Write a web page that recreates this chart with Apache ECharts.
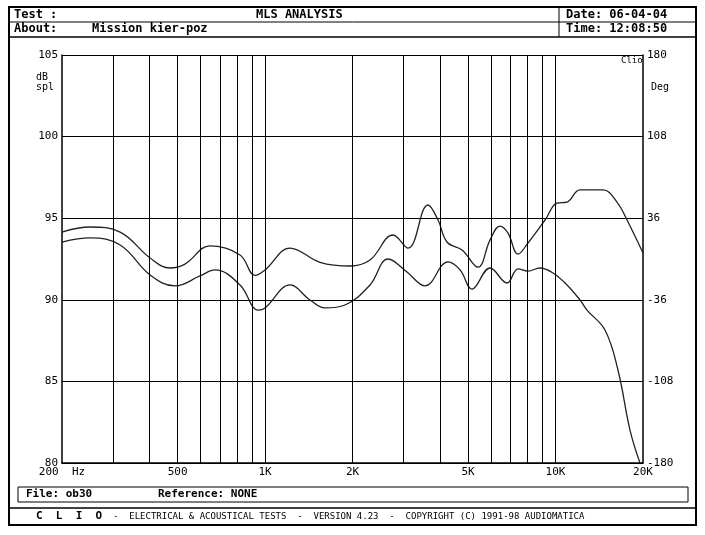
<!DOCTYPE html>
<html><head><meta charset="utf-8">
<script src="https://cdn.jsdelivr.net/npm/echarts@6/dist/echarts.min.js"></script>
<style>body{margin:0;background:#fff}#chart{width:705px;height:535px}</style>
</head><body><div id="chart"></div>
<script>
var upperFreq = [200,250,317,402,471,530,646,820,923,1000,1219,1546,1960,2298,2757,3106,3638,3940,4230,4766,5408,5948,6438,6860,7426,8038,9202,10116,10950,12138,14562,16272,17620,20000];
var upperDb = [94.15,94.46,94.15,92.56,91.95,92.19,93.3,92.75,91.5,91.83,93.17,92.3,92.07,92.44,93.97,93.17,95.81,94.89,93.54,93.05,92.0,93.66,94.52,94.09,92.8,93.48,94.89,95.93,95.99,96.73,96.73,95.99,94.89,92.87];
var lowerFreq = [200,250,317,402,490,597,673,820,946,1000,1219,1428,1608,1884,2298,2651,3080,3553,4263,4691,5157,5948,6806,7426,8038,8842,9799,10950,12138,12830,14796,16400,18040,19530];
var lowerDb = [93.54,93.79,93.36,91.52,90.85,91.46,91.83,90.91,89.37,89.5,90.91,89.99,89.5,89.68,90.91,92.5,91.7,90.85,92.32,91.83,90.66,91.95,91.03,91.89,91.76,91.95,91.64,90.91,89.99,89.37,88.15,85.7,82.02,80];
var gridFreqs = [300,400,500,600,700,800,900,1000,2000,3000,4000,5000,6000,7000,8000,9000,10000];
var xLabels = [200,500,1000,2000,5000,10000,20000];

function pairs(xs, ys) { return xs.map(function (x, i) { return [x, ys[i]]; }); }
var mono = 'DejaVu Sans Mono';

var option = {
    animation: false,
    grid: { left: 62, right: 62, top: 55, bottom: 72 },
    xAxis: {
        type: 'log', min: 200, max: 20000, logBase: 10,
        axisLine: { onZero: false, lineStyle: { color: '#000', width: 1.5 } },
        axisTick: { show: false },
        splitLine: { show: false },
        axisLabel: {
            customValues: xLabels, color: '#000', fontFamily: mono, fontSize: 11, margin: 4,
            formatter: function (v) {
                if (v == 200) return '200  Hz';
                if (v >= 1000) return (v / 1000) + 'K';
                return v;
            }
        }
    },
    yAxis: [
        {
            type: 'value', min: 80, max: 105, interval: 5,
            axisLine: { show: true, lineStyle: { color: '#000', width: 1.5 } },
            axisTick: { show: true, length: 3, inside: true },
            axisLabel: { color: '#000', fontFamily: mono, fontSize: 11, margin: 4 },
            splitLine: { lineStyle: { color: '#000', width: 1 } }
        },
        {
            type: 'value', min: -180, max: 180, interval: 72,
            axisLine: { show: true, lineStyle: { color: '#000', width: 1.5 } },
            axisTick: { show: true, length: 3, inside: true },
            axisLabel: { color: '#000', fontFamily: mono, fontSize: 11, margin: 4 },
            splitLine: { show: false }
        }
    ],
    series: [
        {
            type: 'line', data: pairs(upperFreq, upperDb), smooth: 0.4, symbol: 'none', lineStyle: { color: '#222', width: 1.3 },
            markLine: {
                symbol: 'none', silent: true, label: { show: false },
                lineStyle: { color: '#000', type: 'solid', width: 1 },
                data: gridFreqs.map(function (f) { return { xAxis: f }; })
            }
        },
        { type: 'line', data: pairs(lowerFreq, lowerDb), smooth: 0.4, symbol: 'none', lineStyle: { color: '#222', width: 1.3 } }
    ],
    graphic: [
        { type: 'rect', shape: { x: 9, y: 7, width: 687, height: 518 }, style: { fill: 'none', stroke: '#000', lineWidth: 2 } },
        { type: 'line', shape: { x1: 9, y1: 22, x2: 696, y2: 22 }, style: { stroke: '#000', lineWidth: 1 } },
        { type: 'line', shape: { x1: 9, y1: 37, x2: 696, y2: 37 }, style: { stroke: '#000', lineWidth: 1.5 } },
        { type: 'line', shape: { x1: 559, y1: 7, x2: 559, y2: 37 }, style: { stroke: '#000', lineWidth: 1 } },
        { type: 'text', left: 14, top: 9, style: { text: 'Test :', font: 'bold 12px ' + mono, fill: '#000' } },
        { type: 'text', left: 256, top: 9, style: { text: 'MLS ANALYSIS', font: 'bold 12px ' + mono, fill: '#000' } },
        { type: 'text', left: 566, top: 9, style: { text: 'Date: 06-04-04', font: 'bold 12px ' + mono, fill: '#000' } },
        { type: 'text', left: 14, top: 23, style: { text: 'About:', font: 'bold 12px ' + mono, fill: '#000' } },
        { type: 'text', left: 92, top: 23, style: { text: 'Mission kier-poz', font: 'bold 12px ' + mono, fill: '#000' } },
        { type: 'text', left: 566, top: 23, style: { text: 'Time: 12:08:50', font: 'bold 12px ' + mono, fill: '#000' } },
        { type: 'text', left: 36, top: 72, style: { text: 'dB\nspl', font: '10px ' + mono, fill: '#000', lineHeight: 10 } },
        { type: 'text', left: 651, top: 82, style: { text: 'Deg', font: '10px ' + mono, fill: '#000' } },
        { type: 'text', left: 621, top: 56, style: { text: 'Clio', font: '9px ' + mono, fill: '#000' } },
        { type: 'rect', shape: { x: 18, y: 487, width: 670, height: 15 }, style: { fill: 'none', stroke: '#000', lineWidth: 1 } },
        { type: 'text', left: 26, top: 489, style: { text: 'File: ob30', font: 'bold 11px ' + mono, fill: '#000' } },
        { type: 'text', left: 158, top: 489, style: { text: 'Reference: NONE', font: 'bold 11px ' + mono, fill: '#000' } },
        { type: 'line', shape: { x1: 9, y1: 508, x2: 696, y2: 508 }, style: { stroke: '#000', lineWidth: 1.5 } },
        { type: 'text', left: 36, top: 511, style: { text: 'C  L  I  O', font: 'bold 11px ' + mono, fill: '#000' } },
        { type: 'text', left: 113, top: 512, style: { text: '-  ELECTRICAL & ACOUSTICAL TESTS  -  VERSION 4.23  -  COPYRIGHT (C) 1991-98 AUDIOMATICA', font: '9px ' + mono, fill: '#000' } }
    ]
};

var chart = echarts.init(document.getElementById('chart'));
chart.setOption(option);
</script>
</body></html>
